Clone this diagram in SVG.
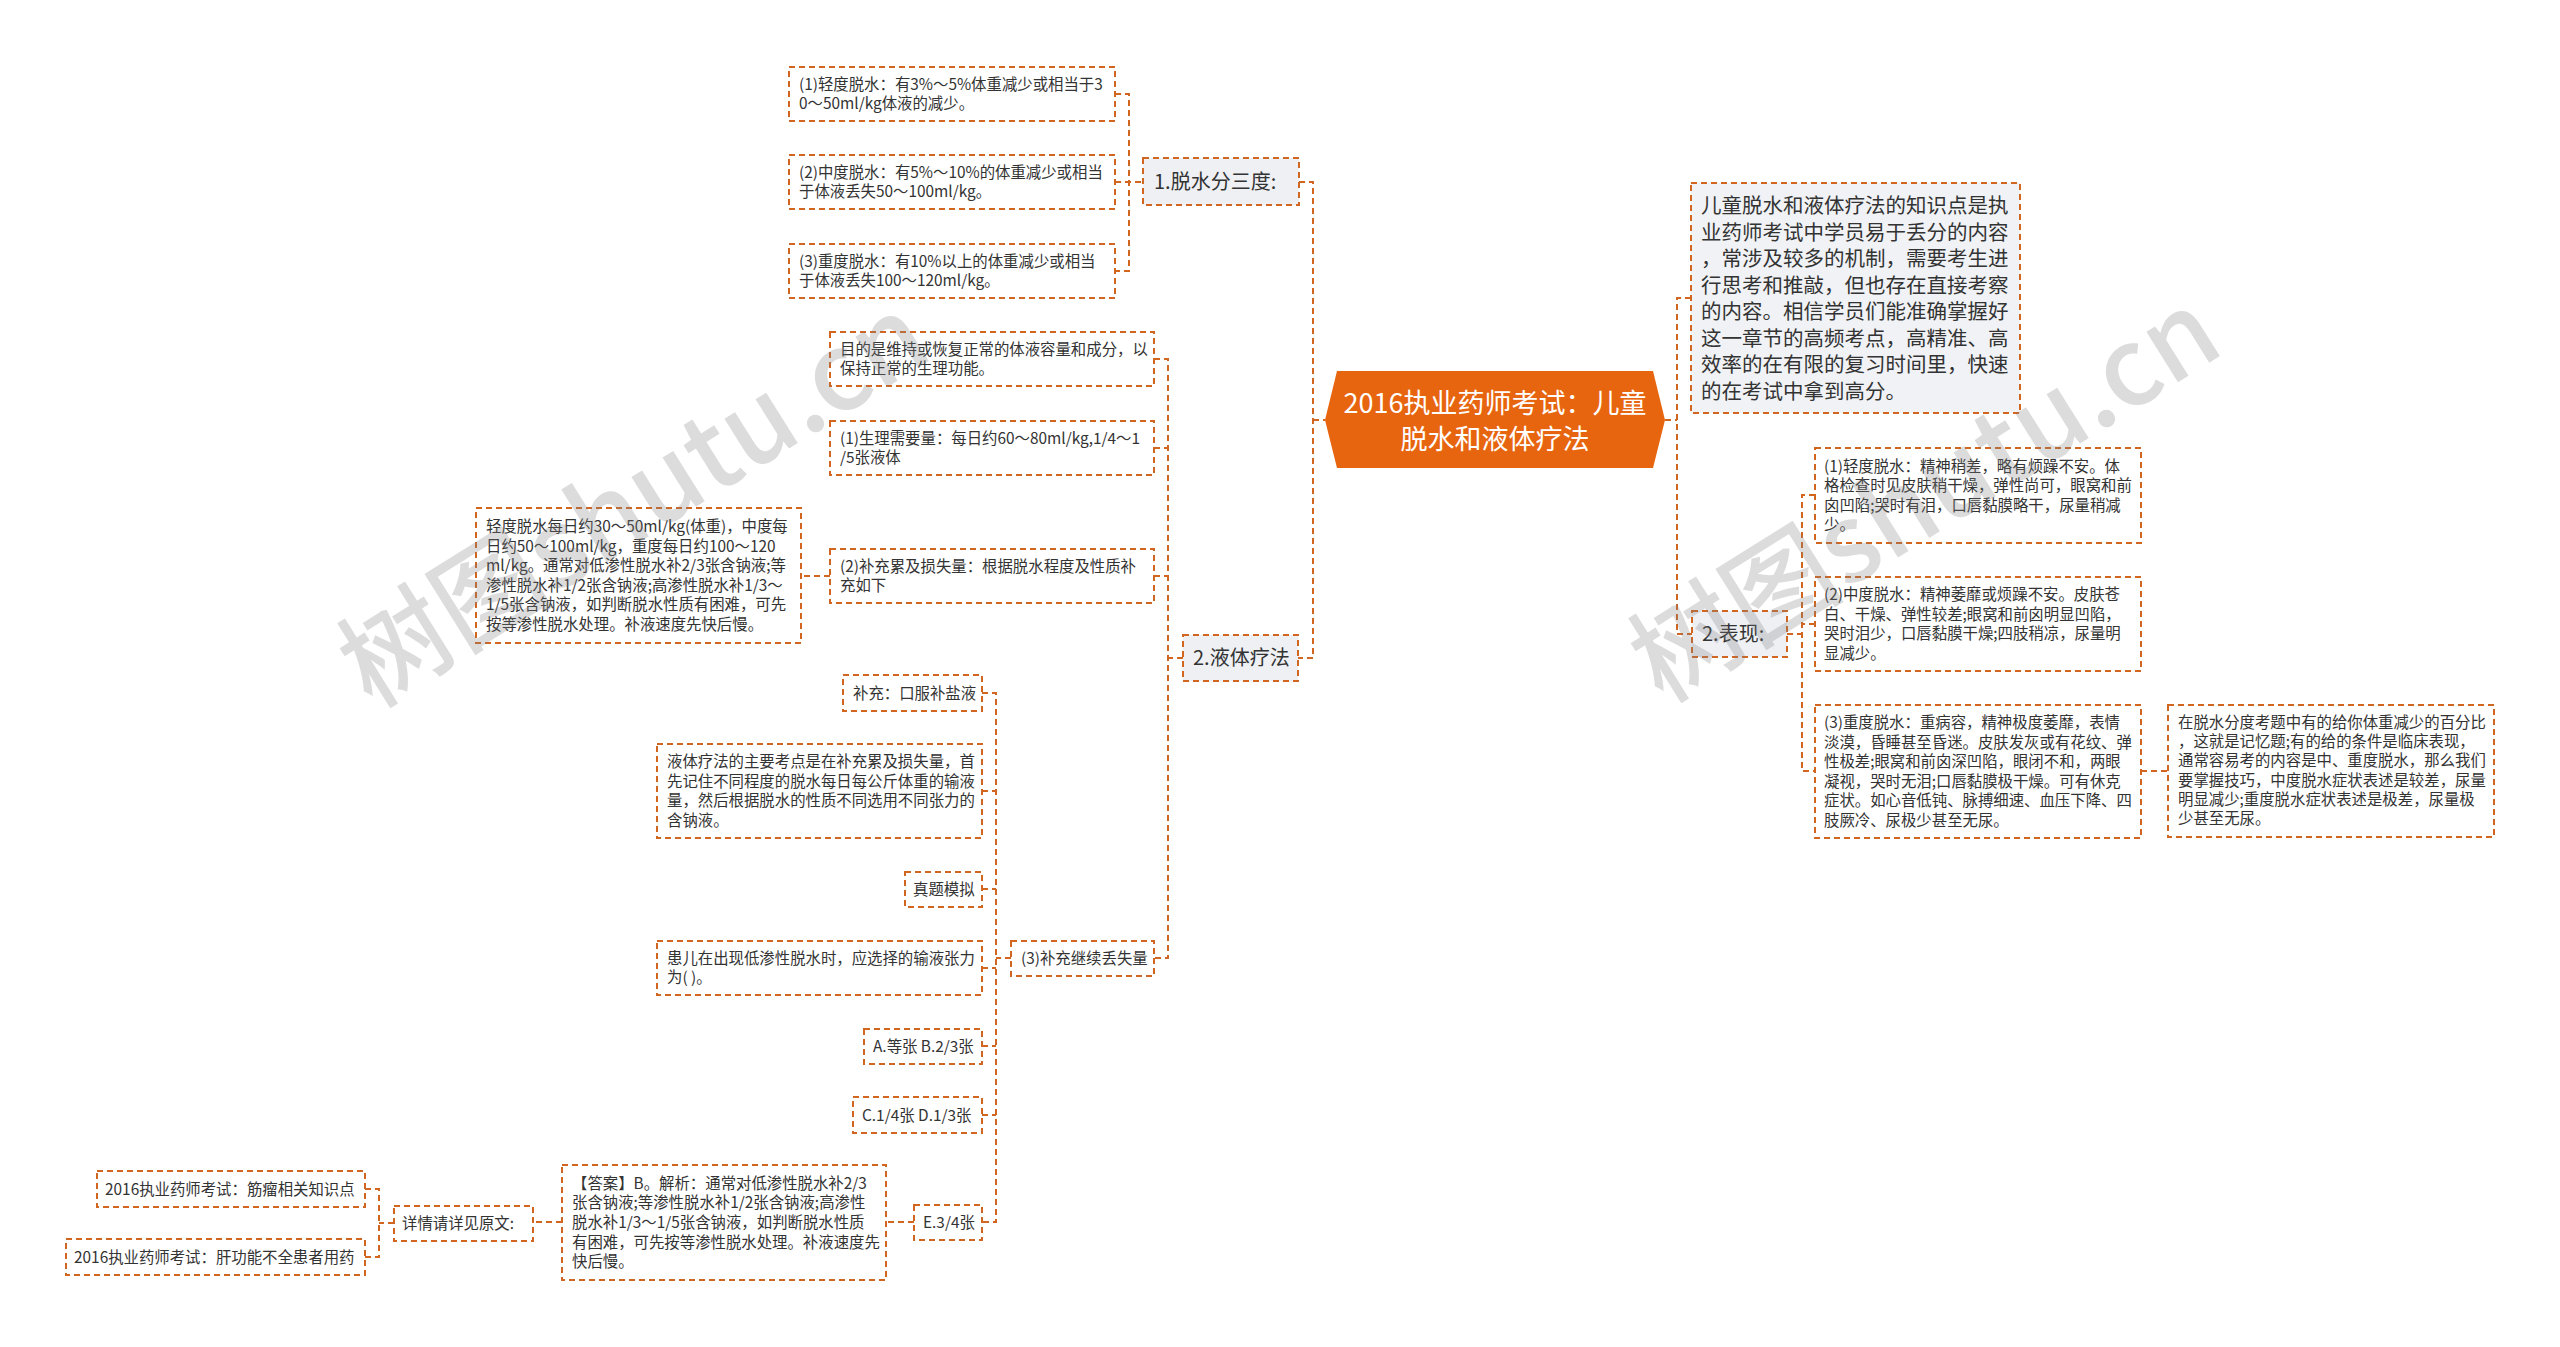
<svg xmlns="http://www.w3.org/2000/svg" width="2560" height="1347" viewBox="0 0 2560 1347">
<style>
.bx{fill:#ffffff;stroke:#d0661f;stroke-width:2;stroke-dasharray:6 4}
.lb{fill:#eef0f4;stroke:#d0661f;stroke-width:2;stroke-dasharray:6 4}
.cn{fill:none;stroke:#d0661f;stroke-width:2;stroke-dasharray:6 4}
text{font-family:"Noto Sans CJK SC","Microsoft YaHei",sans-serif;fill:#333333}
.s{font-size:15.4px}
.m{font-size:20px}
.i{font-size:20.5px}
.c{font-size:27px;fill:#ffffff}
.wm{font-size:108px;font-weight:500;fill:#808080;fill-opacity:0.28}
</style>
<rect width="2560" height="1347" fill="#ffffff"/>
<g id="connectors">
<path class="cn" d="M1115,94 H1129 V271 H1115 M1115,182 H1143"/>
<path class="cn" d="M1299,182 H1313 V658 H1298 M1313,420 H1325"/>
<path class="cn" d="M1183,658 H1168 M1154,359 H1168 V958 H1154 M1154,448 H1168 M1154,576 H1168"/>
<path class="cn" d="M830,576 H801"/>
<path class="cn" d="M1011,958 H996 M982,693 H996 V1222 H982 M982,791 H996 M982,889 H996 M982,968 H996 M982,1046 H996 M982,1115 H996"/>
<path class="cn" d="M914,1222 H886 M562,1222 H533"/>
<path class="cn" d="M394,1223 H379 M365,1189 H379 V1257 H365"/>
<path class="cn" d="M1665,420 H1677 M1691,298 H1677 V634 H1692"/>
<path class="cn" d="M1787,634 H1802 M1815,495 H1802 V771 H1815 M1815,624 H1802"/>
<path class="cn" d="M2141,771 H2168"/>
</g>
<g id="center">
<polygon points="1325,420 1337,371 1653,371 1665,420 1653,468 1337,468" fill="#e8650f"/>
<text class="c" x="1495" y="412.5" text-anchor="middle">2016执业药师考试：儿童</text>
<text class="c" x="1495" y="448.5" text-anchor="middle">脱水和液体疗法</text>
</g>
<g id="n-intro">
<rect class="bx" x="1691" y="183" width="329" height="230" style="fill:#f0f2f5"/>
<text class="i"><tspan x="1701" y="213.3">儿童脱水和液体疗法的知识点是执</tspan><tspan x="1701" y="239.8">业药师考试中学员易于丢分的内容</tspan><tspan x="1701" y="266.3">，常涉及较多的机制，需要考生进</tspan><tspan x="1701" y="292.8">行思考和推敲，但也存在直接考察</tspan><tspan x="1701" y="319.3">的内容。相信学员们能准确掌握好</tspan><tspan x="1701" y="345.8">这一章节的高频考点，高精准、高</tspan><tspan x="1701" y="372.3">效率的在有限的复习时间里，快速</tspan><tspan x="1701" y="398.8">的在考试中拿到高分。</tspan></text>
</g>
<g id="n-deg">
<rect class="lb" x="1143" y="158" width="156" height="47"/>
<text class="m" x="1154" y="189">1.脱水分三度:</text>
</g>
<g id="n-deg1">
<rect class="bx" x="789" y="67" width="326" height="54"/>
<text class="s"><tspan x="799" y="89.7">(1)轻度脱水：有3%～5%体重减少或相当于3</tspan><tspan x="799" y="109.3">0～50ml/kg体液的减少。</tspan></text>
</g>
<g id="n-deg2">
<rect class="bx" x="789" y="155" width="326" height="54"/>
<text class="s"><tspan x="799" y="177.7">(2)中度脱水：有5%～10%的体重减少或相当</tspan><tspan x="799" y="197.3">于体液丢失50～100ml/kg。</tspan></text>
</g>
<g id="n-deg3">
<rect class="bx" x="789" y="244" width="326" height="54"/>
<text class="s"><tspan x="799" y="266.7">(3)重度脱水：有10%以上的体重减少或相当</tspan><tspan x="799" y="286.3">于体液丢失100～120ml/kg。</tspan></text>
</g>
<g id="n-fluid">
<rect class="lb" x="1183" y="635" width="115" height="46"/>
<text class="m" x="1193" y="665">2.液体疗法</text>
</g>
<g id="n-goal">
<rect class="bx" x="830" y="332" width="324" height="54"/>
<text class="s"><tspan x="840" y="354.7">目的是维持或恢复正常的体液容量和成分，以</tspan><tspan x="840" y="374.3">保持正常的生理功能。</tspan></text>
</g>
<g id="n-phys">
<rect class="bx" x="830" y="421" width="324" height="54"/>
<text class="s"><tspan x="840" y="443.7">(1)生理需要量：每日约60～80ml/kg,1/4～1</tspan><tspan x="840" y="463.3">/5张液体</tspan></text>
</g>
<g id="n-loss">
<rect class="bx" x="830" y="549" width="324" height="54"/>
<text class="s"><tspan x="840" y="571.7">(2)补充累及损失量：根据脱水程度及性质补</tspan><tspan x="840" y="591.3">充如下</tspan></text>
</g>
<g id="n-loss-detail">
<rect class="bx" x="476" y="508" width="325" height="135"/>
<text class="s"><tspan x="486" y="532">轻度脱水每日约30～50ml/kg(体重)，中度每</tspan><tspan x="486" y="551.6">日约50～100ml/kg，重度每日约100～120</tspan><tspan x="486" y="571.2">ml/kg。通常对低渗性脱水补2/3张含钠液;等</tspan><tspan x="486" y="590.8">渗性脱水补1/2张含钠液;高渗性脱水补1/3～</tspan><tspan x="486" y="610.4">1/5张含钠液，如判断脱水性质有困难，可先</tspan><tspan x="486" y="630">按等渗性脱水处理。补液速度先快后慢。</tspan></text>
</g>
<g id="n-cont">
<rect class="bx" x="1011" y="941" width="143" height="35"/>
<text class="s" x="1021" y="964">(3)补充继续丢失量</text>
</g>
<g id="n-ors">
<rect class="bx" x="843" y="675" width="139" height="36"/>
<text class="s" x="853" y="698.5">补充：口服补盐液</text>
</g>
<g id="n-key">
<rect class="bx" x="657" y="744" width="325" height="94"/>
<text class="s"><tspan x="667" y="767.1">液体疗法的主要考点是在补充累及损失量，首</tspan><tspan x="667" y="786.7">先记住不同程度的脱水每日每公斤体重的输液</tspan><tspan x="667" y="806.3">量，然后根据脱水的性质不同选用不同张力的</tspan><tspan x="667" y="825.9">含钠液。</tspan></text>
</g>
<g id="n-mock">
<rect class="bx" x="905" y="872" width="77" height="35"/>
<text class="s" x="913" y="895">真题模拟</text>
</g>
<g id="n-q">
<rect class="bx" x="657" y="941" width="325" height="54"/>
<text class="s"><tspan x="667" y="963.7">患儿在出现低渗性脱水时，应选择的输液张力</tspan><tspan x="667" y="983.3">为( )。</tspan></text>
</g>
<g id="n-ab">
<rect class="bx" x="864" y="1029" width="118" height="35"/>
<text class="s" x="873" y="1052">A.等张 B.2/3张</text>
</g>
<g id="n-cd">
<rect class="bx" x="853" y="1097" width="129" height="36"/>
<text class="s" x="862" y="1120.5">C.1/4张 D.1/3张</text>
</g>
<g id="n-e">
<rect class="bx" x="914" y="1205" width="68" height="35"/>
<text class="s" x="923" y="1228">E.3/4张</text>
</g>
<g id="n-ans">
<rect class="bx" x="562" y="1165" width="324" height="115"/>
<text class="s"><tspan x="572" y="1188.8">【答案】B。解析：通常对低渗性脱水补2/3</tspan><tspan x="572" y="1208.4">张含钠液;等渗性脱水补1/2张含钠液;高渗性</tspan><tspan x="572" y="1228">脱水补1/3～1/5张含钠液，如判断脱水性质</tspan><tspan x="572" y="1247.6">有困难，可先按等渗性脱水处理。补液速度先</tspan><tspan x="572" y="1267.2">快后慢。</tspan></text>
</g>
<g id="n-more">
<rect class="bx" x="394" y="1206" width="139" height="35"/>
<text class="s" x="402" y="1229">详情请详见原文:</text>
</g>
<g id="n-link1">
<rect class="bx" x="97" y="1171" width="268" height="36"/>
<text class="s" x="105" y="1194.5">2016执业药师考试：筋瘤相关知识点</text>
</g>
<g id="n-link2">
<rect class="bx" x="66" y="1239" width="299" height="36"/>
<text class="s" x="74" y="1262.5">2016执业药师考试：肝功能不全患者用药</text>
</g>
<g id="n-sign">
<rect class="lb" x="1692" y="611" width="95" height="46"/>
<text class="m" x="1702" y="641">2.表现:</text>
</g>
<g id="n-s1">
<rect class="bx" x="1815" y="448" width="326" height="95"/>
<text class="s"><tspan x="1824" y="471.6">(1)轻度脱水：精神稍差，略有烦躁不安。体</tspan><tspan x="1824" y="491.2">格检查时见皮肤稍干燥，弹性尚可，眼窝和前</tspan><tspan x="1824" y="510.8">囟凹陷;哭时有泪，口唇黏膜略干，尿量稍减</tspan><tspan x="1824" y="530.4">少。</tspan></text>
</g>
<g id="n-s2">
<rect class="bx" x="1815" y="577" width="326" height="94"/>
<text class="s"><tspan x="1824" y="600.1">(2)中度脱水：精神萎靡或烦躁不安。皮肤苍</tspan><tspan x="1824" y="619.7">白、干燥、弹性较差;眼窝和前囟明显凹陷，</tspan><tspan x="1824" y="639.3">哭时泪少，口唇黏膜干燥;四肢稍凉，尿量明</tspan><tspan x="1824" y="658.9">显减少。</tspan></text>
</g>
<g id="n-s3">
<rect class="bx" x="1815" y="705" width="326" height="133"/>
<text class="s"><tspan x="1824" y="728">(3)重度脱水：重病容，精神极度萎靡，表情</tspan><tspan x="1824" y="747.6">淡漠，昏睡甚至昏迷。皮肤发灰或有花纹、弹</tspan><tspan x="1824" y="767.2">性极差;眼窝和前囟深凹陷，眼闭不和，两眼</tspan><tspan x="1824" y="786.8">凝视，哭时无泪;口唇黏膜极干燥。可有休克</tspan><tspan x="1824" y="806.4">症状。如心音低钝、脉搏细速、血压下降、四</tspan><tspan x="1824" y="826">肢厥冷、尿极少甚至无尿。</tspan></text>
</g>
<g id="n-tip">
<rect class="bx" x="2168" y="705" width="326" height="132"/>
<text class="s"><tspan x="2178" y="728">在脱水分度考题中有的给你体重减少的百分比</tspan><tspan x="2178" y="747.2">，这就是记忆题;有的给的条件是临床表现，</tspan><tspan x="2178" y="766.4">通常容易考的内容是中、重度脱水，那么我们</tspan><tspan x="2178" y="785.6">要掌握技巧，中度脱水症状表述是较差，尿量</tspan><tspan x="2178" y="804.8">明显减少;重度脱水症状表述是极差，尿量极</tspan><tspan x="2178" y="824">少甚至无尿。</tspan></text>
</g>
<g id="watermark">
<text class="wm" x="0" y="0" text-anchor="middle" transform="translate(654,533) rotate(-32)">树图shutu.cn</text>
<text class="wm" x="0" y="0" text-anchor="middle" transform="translate(1945,528) rotate(-32)">树图shutu.cn</text>
</g>
</svg>
